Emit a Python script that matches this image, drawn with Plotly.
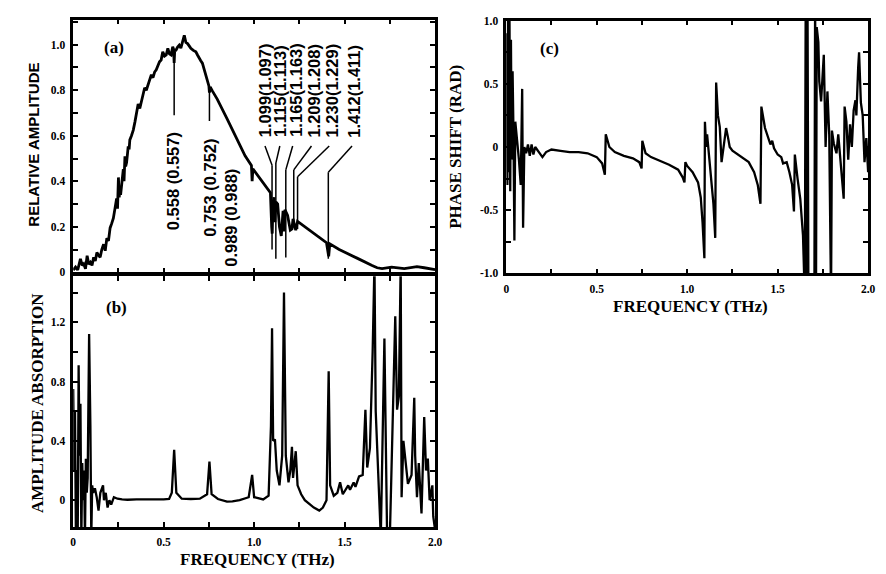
import plotly.graph_objects as go

W, H = 886, 574

# ---------------- (a) relative amplitude spectrum ----------------
AMP_FREQ = [
    0.000, 0.013, 0.025, 0.040, 0.050, 0.058, 0.068, 0.077, 0.086, 0.095,
    0.104, 0.113, 0.122, 0.131, 0.140, 0.149, 0.158, 0.168, 0.177, 0.186,
    0.195, 0.204, 0.213, 0.222, 0.231, 0.236, 0.240, 0.245, 0.250, 0.254,
    0.258, 0.262, 0.268, 0.273, 0.277, 0.281, 0.286, 0.290, 0.295, 0.300,
    0.304, 0.309, 0.313, 0.322, 0.332, 0.341, 0.350, 0.359, 0.368, 0.377,
    0.386, 0.395, 0.404, 0.413, 0.422, 0.432, 0.441, 0.450, 0.459, 0.468,
    0.477, 0.486, 0.495, 0.505, 0.514, 0.523, 0.532, 0.541, 0.550, 0.555,
    0.558, 0.561, 0.568, 0.577, 0.586, 0.595, 0.605, 0.614, 0.623, 0.632,
    0.641, 0.650, 0.664, 0.678, 0.687, 0.696, 0.705, 0.714, 0.723, 0.732,
    0.741, 0.750, 0.753, 0.757, 0.769, 0.782, 0.796, 0.850, 0.900, 0.950,
    0.985, 0.989, 0.993, 1.050, 1.090, 1.097, 1.100, 1.104, 1.110, 1.115,
    1.120, 1.130, 1.140, 1.150, 1.160, 1.165, 1.170, 1.185, 1.195, 1.200,
    1.209, 1.215, 1.225, 1.230, 1.240, 1.300, 1.350, 1.400, 1.412, 1.418,
    1.470, 1.525, 1.580, 1.652, 1.680, 1.707, 1.760, 1.830, 1.870, 1.900,
    1.940, 1.970, 2.000,
]
AMP_VAL = [
    0.010, 0.023, 0.010, 0.059, 0.030, 0.037, 0.015, 0.073, 0.035, 0.044,
    0.030, 0.066, 0.050, 0.087, 0.075, 0.066, 0.100, 0.123, 0.095, 0.150,
    0.138, 0.195, 0.215, 0.238, 0.281, 0.300, 0.324, 0.280, 0.417, 0.330,
    0.353, 0.340, 0.381, 0.430, 0.453, 0.400, 0.510, 0.465, 0.482, 0.520,
    0.553, 0.540, 0.582, 0.600, 0.625, 0.660, 0.697, 0.740, 0.720, 0.754,
    0.790, 0.811, 0.800, 0.826, 0.850, 0.869, 0.855, 0.880, 0.890, 0.910,
    0.925, 0.933, 0.969, 0.950, 0.955, 0.984, 0.960, 0.955, 0.991, 0.980,
    0.920, 0.975, 0.976, 0.990, 0.998, 0.985, 1.012, 1.041, 1.010, 1.005,
    0.995, 0.984, 0.975, 0.969, 0.955, 0.940, 0.930, 0.919, 0.895, 0.869,
    0.845, 0.819, 0.790, 0.815, 0.797, 0.780, 0.761, 0.675, 0.592, 0.512,
    0.470, 0.400, 0.455, 0.395, 0.350, 0.200, 0.170, 0.300, 0.330, 0.220,
    0.310, 0.300, 0.200, 0.160, 0.270, 0.180, 0.275, 0.250, 0.200, 0.185,
    0.190, 0.235, 0.200, 0.185, 0.224, 0.190, 0.160, 0.130, 0.070, 0.125,
    0.100, 0.080, 0.058, 0.030, 0.020, 0.016, 0.023, 0.016, 0.022, 0.025,
    0.020, 0.015, 0.012,
]

# line assignments: measured (calculated) frequencies in THz
LINE_LABELS = ["0.558 (0.557)", "0.753 (0.752)", "0.989 (0.988)",
               "1.099(1.097)", "1.115(1.113)", "1.165(1.163)",
               "1.209(1.208)", "1.230(1.229)", "1.412(1.411)"]

# ---------------- (b) amplitude absorption ----------------
ABS_FREQ = [
    0.000, 0.005, 0.010, 0.015, 0.020, 0.025, 0.030, 0.035, 0.040, 0.045,
    0.050, 0.055, 0.060, 0.065, 0.070, 0.075, 0.080, 0.088, 0.095, 0.100,
    0.105, 0.110, 0.120, 0.130, 0.140, 0.150, 0.165, 0.170, 0.180, 0.190,
    0.200, 0.210, 0.225, 0.245, 0.270, 0.300, 0.350, 0.400, 0.450, 0.500,
    0.530, 0.545, 0.558, 0.570, 0.600, 0.650, 0.700, 0.740, 0.753, 0.765,
    0.800, 0.850, 0.880, 0.920, 0.970, 0.989, 1.000, 1.050, 1.080, 1.093,
    1.099, 1.105, 1.115, 1.125, 1.140, 1.155, 1.165, 1.175, 1.190, 1.200,
    1.209, 1.215, 1.230, 1.240, 1.260, 1.280, 1.300, 1.330, 1.360, 1.380,
    1.400, 1.412, 1.420, 1.440, 1.460, 1.475, 1.490, 1.500, 1.520, 1.530,
    1.550, 1.560, 1.580, 1.600, 1.615, 1.625, 1.640, 1.655, 1.665, 1.672,
    1.700, 1.720, 1.735, 1.750, 1.760, 1.780, 1.790, 1.800, 1.810, 1.815,
    1.825, 1.840, 1.850, 1.870, 1.885, 1.890, 1.900, 1.910, 1.925, 1.940,
    1.950, 1.960, 1.970, 1.985, 1.990, 2.000,
]
ABS_VAL = [
    0.75, 0.20, 0.60, -0.25, 0.20, -0.25, 0.91, 0.30, 0.65, -0.25,
    0.25, 0.00, 0.20, -0.25, 0.28, 0.05, 0.15, 1.12, 0.50, -0.25,
    0.10, 0.05, 0.08, 0.02, -0.07, 0.05, 0.10, 0.00, 0.05, -0.05,
    0.00, -0.03, 0.02, 0.010, 0.005, 0.003, 0.005, 0.003, 0.006, 0.005,
    0.008, 0.050, 0.340, 0.050, 0.010, 0.008, 0.010, 0.040, 0.260, 0.040,
    0.008, -0.010, -0.008, 0.000, 0.020, 0.170, 0.020, 0.005, 0.030, 0.500,
    1.160, 0.400, 0.410, 0.200, 0.100, 0.300, 1.400, 0.300, 0.120, 0.200,
    0.360, 0.150, 0.330, 0.100, 0.040, 0.000, -0.020, -0.050, -0.070, -0.050,
    0.000, 0.870, 0.100, 0.030, 0.050, 0.120, 0.040, 0.060, 0.100, 0.070,
    0.120, 0.090, 0.160, 0.170, 0.610, 0.220, 0.350, 1.000, 1.600, 0.600,
    -0.250, 1.090, -0.250, -0.250, 0.300, 1.240, 0.610, 0.700, 1.600, 0.020,
    0.400, 0.200, 0.110, 0.170, 0.690, 0.300, 0.020, 0.250, -0.090, 0.560,
    0.200, 0.280, 0.000, 0.100, -0.110, -0.200,
]

# ---------------- (c) phase shift ----------------
PHASE_FREQ = [
    0.000, 0.003, 0.006, 0.010, 0.014, 0.018, 0.022, 0.026, 0.030, 0.035,
    0.040, 0.045, 0.050, 0.055, 0.060, 0.070, 0.080, 0.088, 0.093, 0.100,
    0.110, 0.120, 0.130, 0.140, 0.150, 0.160, 0.170, 0.180, 0.200, 0.220,
    0.250, 0.300, 0.350, 0.400, 0.450, 0.500, 0.530, 0.545, 0.550, 0.570,
    0.600, 0.650, 0.700, 0.735, 0.748, 0.752, 0.770, 0.800, 0.850, 0.900,
    0.950, 0.975, 0.985, 0.990, 1.000, 1.030, 1.060, 1.075, 1.085, 1.095,
    1.098, 1.105, 1.110, 1.120, 1.130, 1.145, 1.155, 1.160, 1.170, 1.180,
    1.190, 1.200, 1.215, 1.225, 1.235, 1.250, 1.270, 1.300, 1.340, 1.370,
    1.390, 1.405, 1.410, 1.430, 1.445, 1.460, 1.470, 1.480, 1.500, 1.520,
    1.530, 1.550, 1.565, 1.580, 1.590, 1.595, 1.610, 1.625, 1.640, 1.650,
    1.655, 1.660, 1.665, 1.670, 1.675, 1.690, 1.703, 1.707, 1.712, 1.716,
    1.725, 1.730, 1.740, 1.755, 1.765, 1.775, 1.785, 1.795, 1.800, 1.810,
    1.825, 1.835, 1.845, 1.855, 1.865, 1.870, 1.880, 1.890, 1.900, 1.910,
    1.920, 1.930, 1.935, 1.945, 1.950, 1.960, 1.970, 1.980, 1.990, 2.000,
]
PHASE_VAL = [
    0.00, 0.90, -0.30, 1.10, -0.20, 1.00, -0.35, 0.85, -0.10, 0.60,
    0.10, -0.74, 0.20, 0.10, 0.05, -0.10, -0.30, 0.46, -0.64, 0.00,
    -0.05, 0.02, -0.07, 0.02, -0.06, 0.00, -0.02, -0.04, -0.08, -0.04,
    -0.02, -0.03, -0.04, -0.04, -0.05, -0.08, -0.13, -0.22, 0.10, 0.00,
    -0.04, -0.07, -0.09, -0.12, -0.17, 0.05, -0.05, -0.08, -0.11, -0.14,
    -0.18, -0.24, -0.28, -0.12, -0.15, -0.20, -0.28, -0.40, -0.60, -0.88,
    0.20, 0.00, 0.10, -0.05, -0.20, -0.45, -0.72, 0.51, 0.25, 0.16,
    -0.12, 0.00, 0.15, 0.08, 0.00, -0.03, -0.05, -0.08, -0.12, -0.20,
    -0.30, -0.45, 0.32, 0.15, 0.09, 0.02, 0.05, -0.01, -0.06, -0.08,
    -0.13, -0.12, -0.20, -0.30, -0.51, -0.06, -0.25, -0.41, -0.70, -1.20,
    1.20, -1.20, 1.20, -1.20, -1.20, -1.20, -1.20, 1.20, -1.20, 0.95,
    0.83, 0.52, 0.36, 0.73, 0.00, 0.44, 0.10, -1.20, 0.13, 0.03,
    -0.05, 0.10, -0.05, -0.20, -0.41, 0.32, 0.20, -0.10, 0.18, 0.00,
    0.29, 0.37, 0.25, 0.63, 0.75, 0.35, 0.25, -0.12, 0.07, -0.20,
]


def px(x):
    return x / W


def py(y):
    return 1 - y / H


SERIF = "Liberation Serif"
SANS = "Liberation Sans"
TICKFONT = dict(family=SERIF, size=11.5, color="black", weight="bold")


def frame(**kw):
    base = dict(showline=True, linewidth=2.5, linecolor="black", mirror="ticks",
                ticks="inside", ticklen=5, tickwidth=1.5, tickcolor="black",
                showgrid=False, zeroline=False, tickfont=TICKFONT,
                ticklabelstandoff=3)
    base.update(kw)
    return base


def minor(vals):
    return dict(tickvals=vals, ticks="inside", ticklen=5, tickwidth=1.5,
                tickcolor="black", showgrid=False)


fig = go.Figure()
line_style = dict(color="black", width=2.3)
fig.add_trace(go.Scatter(x=AMP_FREQ, y=AMP_VAL, mode="lines", line=dict(color="black", width=2.8),
                         xaxis="x", yaxis="y", showlegend=False))
fig.add_trace(go.Scatter(x=ABS_FREQ, y=ABS_VAL, mode="lines", line=line_style,
                         xaxis="x2", yaxis="y2", showlegend=False))
fig.add_trace(go.Scatter(x=PHASE_FREQ, y=PHASE_VAL, mode="lines", line=line_style,
                         xaxis="x3", yaxis="y3", showlegend=False))

dom_left = [px(71), px(437)]
dom_right = [px(509), px(875)]
freq_vals = [0, 0.5, 1.0, 1.5, 2.0]
freq_text = ["0", "0.5", "1.0", "1.5", "2.0"]

fig.update_layout(
    width=W, height=H,
    margin=dict(l=0, r=0, t=0, b=0),
    paper_bgcolor="white", plot_bgcolor="white",
    xaxis=frame(domain=dom_left, anchor="y", range=[0, 2],
                tickvals=[0.25 * i for i in range(9)], showticklabels=False),
    yaxis=frame(domain=[py(272), py(14)], anchor="x", range=[0, 1.11],
                tickvals=[0, 0.2, 0.4, 0.6, 0.8, 1.0],
                ticktext=["0", "0.2", "0.4", "0.6", "0.8", "1.0"],
                minor=minor([0.1, 0.3, 0.5, 0.7, 0.9, 1.1])),
    xaxis2=frame(domain=dom_left, anchor="y2", range=[0, 2],
                 tickvals=freq_vals, ticktext=freq_text,
                 minor=minor([0.25, 0.75, 1.25, 1.75])),
    yaxis2=frame(domain=[py(532), py(276)], anchor="x2", range=[-0.18, 1.51],
                 tickvals=[0, 0.4, 0.8, 1.2], ticktext=["0", "0.4", "0.8", "1.2"],
                 minor=minor([0.2, 0.6, 1.0, 1.4])),
    xaxis3=frame(domain=dom_right, anchor="y3", range=[0, 2],
                 tickvals=freq_vals, ticktext=freq_text,
                 minor=minor([0.25, 0.75, 1.25, 1.75])),
    yaxis3=frame(domain=[py(273), py(15)], anchor="x3", range=[-1, 1],
                 tickvals=[-1, -0.5, 0, 0.5, 1],
                 ticktext=["-1.0", "-0.5", "0", "0.5", "1.0"],
                 minor=minor([-0.75, -0.25, 0.25, 0.75])),
)

# leader lines joining the assignments to their absorption dips in (a)
leaders = [
    [(0.558, 0.69), (0.558, 0.96)],
    [(0.753, 0.665), (0.753, 0.81)],
    [(1.060, 0.555), (1.099, 0.47), (1.099, 0.10)],
    [(1.142, 0.555), (1.120, 0.48), (1.120, 0.06)],
    [(1.213, 0.555), (1.175, 0.45), (1.175, 0.065)],
    [(1.317, 0.555), (1.219, 0.45), (1.219, 0.21)],
    [(1.415, 0.555), (1.240, 0.42), (1.240, 0.19)],
    [(1.541, 0.555), (1.410, 0.44), (1.410, 0.06)],
]
for pts in leaders:
    for (x0, y0), (x1, y1) in zip(pts[:-1], pts[1:]):
        fig.add_shape(type="line", xref="x", yref="y", x0=x0, y0=y0, x1=x1, y1=y1,
                      line=dict(color="black", width=1.5))

label_font = dict(family=SANS, size=16.5, color="black", weight="bold")
# (centre x in px, bottom y in px) of each rotated assignment label
label_pos = [
    (172, 231), (209, 238), (231, 268),
    (265, 136), (280, 136), (297, 136),
    (315, 136), (333, 136), (355, 136),
]
for text, (lx, ly) in zip(LINE_LABELS, label_pos):
    fig.add_annotation(text=text, xref="paper", yref="paper", x=px(lx), y=py(ly),
                       xanchor="center", yanchor="bottom", textangle=-90,
                       showarrow=False, font=label_font)

panel_font = dict(family=SERIF, size=17, color="black", weight="bold")
for tag, (ax, ay) in {"(a)": (112, 42), "(b)": (115, 308), "(c)": (553, 43)}.items():
    fig.add_annotation(text=tag, xref="paper", yref="paper", x=px(ax), y=py(ay),
                       xanchor="center", yanchor="middle", showarrow=False, font=panel_font)

title_font = dict(family=SERIF, size=17, color="black", weight="bold")
titles = [
    ("RELATIVE AMPLITUDE", 30, 142, -90, dict(family=SANS, size=15, color="black", weight="bold")),
    ("AMPLITUDE ABSORPTION", 35, 406, -90, title_font),
    ("PHASE SHIFT (RAD)", 458, 144, -90, title_font),
    ("FREQUENCY (THz)", 257, 565, 0, title_font),
    ("FREQUENCY (THz)", 695, 307, 0, title_font),
]
for text, tx, ty, ang, fnt in titles:
    fig.add_annotation(text=text, xref="paper", yref="paper", x=px(tx), y=py(ty),
                       xanchor="center", yanchor="middle", textangle=ang,
                       showarrow=False, font=fnt)

fig.write_html("out.html")
